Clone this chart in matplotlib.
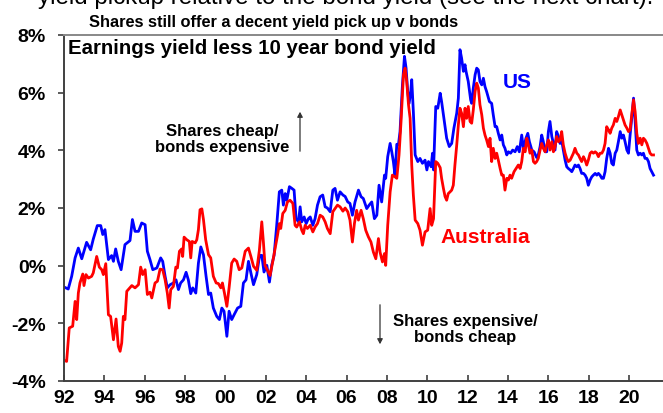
import matplotlib
matplotlib.use("Agg")
import matplotlib.pyplot as plt

plt.rcParams['font.family'] = ['Liberation Sans', 'DejaVu Sans']

# ---- data (decimal year, % points) ----
us_years = [1992.00, 1992.21, 1992.38, 1992.55, 1992.71, 1992.88, 1993.12, 1993.32, 1993.45, 1993.65,
            1993.82, 1993.92, 1994.03, 1994.20, 1994.36, 1994.45, 1994.56, 1994.69, 1994.83, 1995.02,
            1995.27, 1995.39, 1995.52, 1995.69, 1995.85, 1996.02, 1996.13, 1996.26, 1996.40, 1996.60,
            1996.79, 1996.89, 1997.01, 1997.12, 1997.26, 1997.42, 1997.55, 1997.67, 1997.78, 1997.92,
            1998.05, 1998.16, 1998.28, 1998.38, 1998.53, 1998.66, 1998.78, 1998.91, 1999.04, 1999.16,
            1999.27, 1999.40, 1999.57, 1999.70, 1999.82, 1999.93, 2000.07, 2000.18, 2000.31, 2000.43,
            2000.60, 2000.76, 2000.89, 2001.02, 2001.14, 2001.26, 2001.39, 2001.55, 2001.69, 2001.80,
            2001.91, 2002.05, 2002.18, 2002.29, 2002.41, 2002.54, 2002.67, 2002.79, 2002.87, 2002.96,
            2003.04, 2003.17, 2003.29, 2003.40, 2003.50, 2003.62, 2003.70, 2003.78, 2003.90, 2004.00,
            2004.11, 2004.20, 2004.33, 2004.44, 2004.56, 2004.69, 2004.82, 2004.94, 2005.05, 2005.19,
            2005.32, 2005.43, 2005.55, 2005.68, 2005.82, 2005.93, 2006.06, 2006.17, 2006.29, 2006.42,
            2006.59, 2006.72, 2006.83, 2007.00, 2007.12, 2007.25, 2007.38, 2007.50, 2007.61, 2007.74,
            2007.88, 2007.94, 2008.04, 2008.16, 2008.24, 2008.32, 2008.40, 2008.49, 2008.57, 2008.65,
            2008.77, 2008.87, 2008.95, 2009.03, 2009.10, 2009.18, 2009.23, 2009.31, 2009.40, 2009.53,
            2009.64, 2009.76, 2009.89, 2009.98, 2010.06, 2010.19, 2010.26, 2010.31, 2010.42, 2010.52,
            2010.64, 2010.71, 2010.80, 2010.88, 2010.96, 2011.09, 2011.21, 2011.32, 2011.46, 2011.54,
            2011.62, 2011.70, 2011.79, 2011.87, 2011.92, 2012.03, 2012.15, 2012.20, 2012.28, 2012.37,
            2012.45, 2012.53, 2012.61, 2012.70, 2012.78, 2012.86, 2012.94, 2013.08, 2013.19, 2013.27,
            2013.36, 2013.44, 2013.52, 2013.61, 2013.69, 2013.77, 2013.85, 2013.94, 2014.02, 2014.13,
            2014.23, 2014.35, 2014.46, 2014.56, 2014.68, 2014.76, 2014.89, 2014.98, 2015.06, 2015.18,
            2015.29, 2015.42, 2015.50, 2015.59, 2015.67, 2015.75, 2015.84, 2015.92, 2016.00, 2016.08,
            2016.17, 2016.25, 2016.33, 2016.41, 2016.50, 2016.58, 2016.66, 2016.74, 2016.83, 2016.91,
            2016.99, 2017.08, 2017.16, 2017.24, 2017.32, 2017.41, 2017.49, 2017.57, 2017.65, 2017.74,
            2017.82, 2017.90, 2017.98, 2018.07, 2018.15, 2018.23, 2018.32, 2018.40, 2018.48, 2018.56,
            2018.65, 2018.73, 2018.81, 2018.89, 2018.98, 2019.06, 2019.14, 2019.22, 2019.31, 2019.39,
            2019.47, 2019.56, 2019.64, 2019.72, 2019.80, 2019.89, 2019.97, 2020.05, 2020.13, 2020.22,
            2020.30, 2020.38, 2020.46, 2020.55, 2020.63, 2020.71, 2020.79, 2020.88, 2020.96, 2021.04,
            2021.12, 2021.21]
us_vals = [-0.74, -0.81, -0.37, 0.27, 0.61, 0.24, 0.81, 0.55, 0.92, 1.39,
           1.39, 1.08, 1.25, 0.21, 0.35, 0.15, 0.58, 0.15, -0.14, 0.73,
           0.87, 1.60, 1.19, 1.19, 1.48, 1.42, 0.50, 0.21, -0.14, -0.08,
           0.27, 0.15, -0.37, -0.77, -0.66, -0.60, -0.49, -0.83, -0.60, -0.49,
           -0.23, -0.49, -0.97, -0.77, -0.95, 0.09, 0.65, 0.38, -0.37, -1.00,
           -0.95, -1.47, -1.76, -1.87, -1.47, -1.58, -2.45, -1.58, -1.87, -1.70,
           -1.47, -1.41, -0.60, -0.49, 0.15, -0.25, -0.66, -0.31, 0.35, 0.36,
           -0.22, 0.01, -0.57, 0.01, 0.36, 1.40, 2.56, 2.62, 2.10, 2.50,
           2.27, 2.74, 2.68, 2.62, 1.63, 1.52, 2.04, 1.52, 1.69, 1.46,
           1.63, 1.69, 1.40, 1.63, 2.10, 2.39, 2.45, 2.04, 2.00, 1.87,
           2.62, 2.68, 2.27, 2.56, 2.45, 2.40, 2.21, 2.16, 1.75, 2.21,
           2.62, 2.39, 2.33, 1.98, 2.10, 2.21, 1.63, 1.75, 2.79, 2.21,
           3.14, 3.03, 3.78, 4.24, 3.95, 3.61, 3.14, 4.21, 4.19, 4.65,
           6.27, 7.26, 6.85, 6.04, 5.63, 6.04, 6.45, 5.34, 3.84, 3.61,
           3.72, 3.55, 3.66, 3.32, 3.61, 3.43, 3.90, 3.32, 5.52, 5.46,
           5.98, 5.69, 5.23, 4.82, 4.42, 4.13, 4.24, 4.77, 5.29, 5.81,
           7.49, 7.20, 6.74, 6.97, 6.74, 6.39, 5.75, 5.63, 6.16, 6.62,
           6.85, 6.79, 6.39, 6.27, 6.50, 6.21, 6.04, 5.69, 5.63, 5.23,
           4.82, 4.82, 4.59, 4.36, 4.53, 4.19, 4.07, 3.84, 3.95, 3.90,
           4.01, 3.95, 4.13, 3.95, 4.53, 4.07, 4.42, 4.59, 4.30, 4.01,
           3.95, 3.75, 3.84, 4.13, 4.53, 4.30, 3.95, 3.95, 4.65, 5.00,
           4.48, 4.24, 4.01, 4.65, 4.48, 4.24, 4.36, 4.01, 3.66, 3.43,
           3.37, 3.32, 3.26, 3.37, 3.49, 3.43, 3.49, 3.37, 3.20, 3.20,
           3.14, 3.03, 2.79, 2.97, 3.08, 3.14, 3.20, 3.14, 3.20, 3.14,
           3.03, 3.03, 3.26, 3.72, 4.07, 3.90, 3.55, 3.49, 3.90, 4.01,
           4.30, 4.65, 4.42, 4.53, 4.30, 4.01, 3.90, 4.53, 5.11, 5.81,
           5.00, 4.01, 3.84, 3.90, 3.84, 3.90, 3.72, 3.72, 3.61, 3.37,
           3.26, 3.14]

au_years = [1992.00, 1992.13, 1992.26, 1992.43, 1992.55, 1992.63, 1992.71, 1992.79, 1992.93, 1992.99,
            1993.09, 1993.21, 1993.37, 1993.45, 1993.62, 1993.75, 1993.87, 1993.95, 1994.07, 1994.20,
            1994.31, 1994.45, 1994.58, 1994.69, 1994.78, 1994.86, 1994.94, 1995.02, 1995.11, 1995.36,
            1995.52, 1995.69, 1995.80, 1995.90, 1996.02, 1996.13, 1996.26, 1996.35, 1996.51, 1996.63,
            1996.76, 1996.89, 1997.01, 1997.12, 1997.21, 1997.29, 1997.42, 1997.54, 1997.62, 1997.72,
            1997.83, 1997.88, 1997.95, 1998.08, 1998.21, 1998.28, 1998.35, 1998.50, 1998.58, 1998.66,
            1998.74, 1998.83, 1998.91, 1999.02, 1999.16, 1999.27, 1999.40, 1999.54, 1999.65, 1999.77,
            1999.85, 1999.95, 2000.07, 2000.18, 2000.31, 2000.43, 2000.56, 2000.68, 2000.81, 2000.98,
            2001.14, 2001.26, 2001.39, 2001.55, 2001.68, 2001.80, 2001.88, 2001.96, 2002.08, 2002.21,
            2002.34, 2002.46, 2002.58, 2002.67, 2002.74, 2002.84, 2002.96, 2003.07, 2003.20, 2003.34,
            2003.45, 2003.53, 2003.67, 2003.78, 2003.86, 2003.95, 2004.06, 2004.20, 2004.33, 2004.44,
            2004.56, 2004.69, 2004.82, 2004.94, 2005.05, 2005.19, 2005.32, 2005.43, 2005.55, 2005.68,
            2005.82, 2005.93, 2006.06, 2006.17, 2006.29, 2006.39, 2006.50, 2006.59, 2006.72, 2006.83,
            2006.95, 2007.08, 2007.21, 2007.33, 2007.45, 2007.58, 2007.66, 2007.78, 2007.88, 2007.94,
            2008.04, 2008.16, 2008.27, 2008.40, 2008.49, 2008.60, 2008.70, 2008.82, 2008.90, 2008.98,
            2009.07, 2009.15, 2009.23, 2009.31, 2009.40, 2009.53, 2009.64, 2009.76, 2009.89, 2010.02,
            2010.14, 2010.22, 2010.31, 2010.42, 2010.52, 2010.64, 2010.71, 2010.80, 2010.88, 2010.96,
            2011.04, 2011.13, 2011.21, 2011.29, 2011.37, 2011.46, 2011.54, 2011.62, 2011.70, 2011.79,
            2011.87, 2011.95, 2012.03, 2012.12, 2012.20, 2012.28, 2012.37, 2012.45, 2012.53, 2012.61,
            2012.70, 2012.78, 2012.86, 2012.94, 2013.03, 2013.11, 2013.19, 2013.27, 2013.36, 2013.44,
            2013.52, 2013.61, 2013.69, 2013.77, 2013.85, 2013.94, 2014.02, 2014.10, 2014.18, 2014.30,
            2014.40, 2014.51, 2014.60, 2014.68, 2014.76, 2014.85, 2014.93, 2015.01, 2015.09, 2015.18,
            2015.26, 2015.34, 2015.42, 2015.50, 2015.59, 2015.67, 2015.75, 2015.84, 2015.92, 2016.00,
            2016.08, 2016.17, 2016.25, 2016.33, 2016.41, 2016.50, 2016.58, 2016.66, 2016.74, 2016.83,
            2016.91, 2016.99, 2017.08, 2017.16, 2017.24, 2017.32, 2017.41, 2017.49, 2017.57, 2017.65,
            2017.74, 2017.82, 2017.90, 2017.98, 2018.07, 2018.15, 2018.23, 2018.32, 2018.40, 2018.48,
            2018.56, 2018.65, 2018.73, 2018.81, 2018.89, 2018.98, 2019.06, 2019.14, 2019.22, 2019.31,
            2019.39, 2019.47, 2019.56, 2019.64, 2019.72, 2019.80, 2019.89, 2019.97, 2020.05, 2020.13,
            2020.22, 2020.30, 2020.38, 2020.46, 2020.55, 2020.63, 2020.71, 2020.79, 2020.88, 2020.96,
            2021.04, 2021.12, 2021.21]
au_vals = [-3.28, -3.32, -2.16, -2.10, -1.24, -1.87, -0.95, -0.60, -0.29, -0.69,
           -0.31, -0.43, -0.37, -0.25, 0.32, -0.05, -0.14, -0.31, 0.07, -1.70,
           -1.76, -2.57, -1.85, -2.80, -2.97, -2.68, -1.76, -1.87, -0.89, -0.69,
           -0.77, -0.66, -0.05, -0.31, -0.14, -1.00, -0.92, -1.12, -0.60, -0.54,
           -0.12, -0.14, -0.49, -0.95, -1.47, -0.83, -0.72, -0.05, -0.08, 0.50,
           0.58, 0.32, 0.99, 0.90, 0.84, 0.27, 0.84, 0.79, 0.90, 1.25,
           1.94, 1.97, 1.60, 0.90, 0.38, 0.27, -0.37, -0.60, -0.62, -0.77,
           -0.60, -0.95, -1.41, -0.77, 0.09, 0.23, 0.15, -0.14, -0.08, 0.50,
           0.61, 0.32, -0.02, -0.16, 0.53, 1.52, 0.82, 0.01, -0.16, -0.34,
           0.13, 0.59, 1.06, 1.46, 1.29, 1.81, 1.92, 2.21, 2.27, 2.16,
           1.40, 1.34, 1.52, 1.23, 1.11, 1.40, 1.29, 1.40, 1.17, 1.34,
           1.46, 1.75, 1.69, 1.52, 1.29, 1.11, 1.87, 1.98, 2.10, 2.04,
           1.89, 2.00, 1.87, 1.58, 0.82, 1.46, 1.92, 1.58, 1.92, 1.63,
           1.23, 1.00, 0.82, 0.47, 0.24, 0.94, 0.47, 0.13, 0.42, 0.01,
           1.40, 2.56, 3.14, 3.08, 3.03, 3.84, 5.00, 6.62, 6.85, 6.39,
           5.58, 5.11, 3.49, 2.45, 1.58, 1.46, 1.23, 0.71, 1.17, 1.23,
           1.98, 1.40, 1.63, 3.61, 3.55, 3.40, 3.03, 2.68, 2.40, 2.27,
           2.50, 2.56, 2.62, 2.79, 3.49, 4.19, 4.88, 5.46, 5.29, 4.82,
           5.46, 5.11, 5.52, 5.00, 4.94, 5.40, 6.04, 6.33, 6.16, 5.58,
           5.23, 4.77, 4.53, 4.36, 4.13, 4.42, 3.61, 4.07, 3.72, 3.90,
           3.66, 3.37, 3.14, 3.14, 2.62, 3.03, 2.97, 3.14, 3.03, 3.26,
           3.37, 3.49, 3.37, 3.61, 4.07, 3.95, 4.42, 4.19, 3.90, 4.01,
           3.61, 3.55, 3.61, 3.72, 4.01, 4.24, 4.07, 3.95, 4.19, 4.36,
           4.01, 4.30, 3.95, 4.13, 4.48, 4.30, 4.36, 4.65, 4.19, 3.90,
           3.72, 3.61, 3.66, 3.78, 3.90, 4.07, 3.90, 3.84, 3.72, 3.61,
           3.78, 3.66, 3.49, 3.66, 3.90, 3.95, 3.90, 3.95, 3.90, 3.78,
           3.90, 3.90, 4.01, 4.24, 4.82, 4.71, 4.59, 4.77, 4.88, 5.11,
           5.00, 5.17, 5.40, 5.23, 5.06, 4.88, 4.77, 4.65, 4.71, 5.23,
           5.75, 5.34, 4.59, 4.24, 4.42, 4.19, 4.42, 4.36, 4.24, 4.07,
           3.90, 3.84, 3.84]

x_ticks = [1992, 1994, 1996, 1998, 2000, 2002, 2004, 2006, 2008, 2010,
           2012, 2014, 2016, 2018, 2020]
x_tick_labels = ['92', '94', '96', '98', '00', '02', '04', '06', '08', '10',
                 '12', '14', '16', '18', '20']
y_ticks = [-4, -2, 0, 2, 4, 6, 8]
y_tick_labels = ['-4%', '-2%', '0%', '2%', '4%', '6%', '8%']

W, H = 663, 414
fig = plt.figure(figsize=(W / 100, H / 100), dpi=100)
ax = fig.add_axes([64 / W, (H - 382) / H, (W - 64) / W, (382 - 36) / H])

ax.plot(us_years, us_vals, color='#0000FF', lw=2.0, solid_joinstyle='round')
ax.plot(au_years, au_vals, color='#FF0000', lw=2.0, solid_joinstyle='round')

ax.set_xlim(1992.0, 2021.68)
ax.set_ylim(-4, 8)
ax.set_xticks(x_ticks)
ax.set_xticklabels(x_tick_labels, fontsize=14, fontweight='bold')
ax.set_yticks(y_ticks)
ax.set_yticklabels(y_tick_labels, fontsize=14, fontweight='bold')
ax.tick_params(axis='x', direction='in', length=4, width=1.2, color='#404040', pad=5.5)
ax.tick_params(axis='y', direction='out', length=4.5, width=1.2, color='#404040', pad=8.5)

for s in ['left', 'bottom']:
    ax.spines[s].set_color('#404040')
    ax.spines[s].set_linewidth(1.4)
ax.spines['top'].set_color('#888888')
ax.spines['top'].set_linewidth(1.4)
ax.spines['right'].set_visible(False)


def fx(x):
    return x / W


def fy(y):
    return 1 - y / H


# text cut off at the very top edge (as in the reference)
fig.text(fx(346), fy(4), 'yield pickup relative to the bond yield (see the next chart).',
         ha='center', va='baseline', fontsize=17.4)
fig.text(fx(274), fy(22), 'Shares still offer a decent yield pick up v bonds',
         ha='center', va='center', fontsize=11.8, fontweight='bold')
fig.text(fx(68), fy(48), 'Earnings yield less 10 year bond yield',
         ha='left', va='center', fontsize=14.7, fontweight='bold')
fig.text(fx(503), fy(82), 'US', ha='left', va='center', fontsize=15,
         fontweight='bold', color='#0000FF')
fig.text(fx(440), fy(238), 'Australia', ha='left', va='center', fontsize=15,
         fontweight='bold', color='#FF0000')
fig.text(fx(222), fy(139.5), 'Shares cheap/\nbonds expensive', ha='center', va='center',
         fontsize=12, fontweight='bold', linespacing=1.12)
fig.text(fx(465), fy(329.5), 'Shares expensive/\nbonds cheap', ha='center', va='center',
         fontsize=12, fontweight='bold', linespacing=1.12)

fig.add_artist(matplotlib.patches.FancyArrowPatch(
    (fx(300), fy(155)), (fx(300), fy(110)), transform=fig.transFigure,
    arrowstyle='-|>,head_length=3,head_width=1.6', color='#333333', lw=0.9))
fig.add_artist(matplotlib.patches.FancyArrowPatch(
    (fx(380), fy(303)), (fx(380), fy(348)), transform=fig.transFigure,
    arrowstyle='-|>,head_length=3,head_width=1.6', color='#333333', lw=0.9))

fig.savefig('out.png', dpi=100)
